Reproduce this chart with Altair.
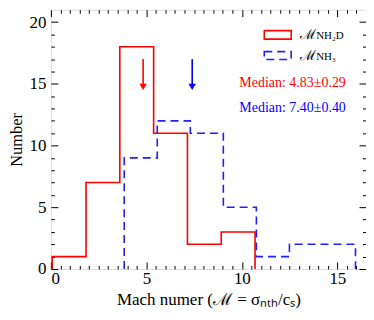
import altair as alt
import pandas as pd

# ---- data ----
red_edges = [0.07, 1.84, 3.61, 5.38, 7.15, 8.92, 10.69]
red_counts = [1, 7, 18, 11, 2, 3]
blue_edges = [3.84, 5.57, 7.30, 9.03, 10.76, 12.49, 14.22, 15.95]
blue_counts = [9, 12, 11, 5, 1, 2, 2]
medians = [4.83, 7.40]
median_errs = [0.29, 0.40]
arrow_top = [17.0, 17.0]
arrow_head = [14.75, 14.75]
series_colors = ["#ff0000", "#0000ff"]

x_major = [0, 5, 10, 15]
x_ticks = [i * 0.5 for i in range(34)]
y_major = [0, 5, 10, 15, 20]
y_ticks = list(range(21))

FONT = "Liberation Serif"
W, H = 316, 260


def steps(edges, counts):
    xs = [edges[0]] + list(edges)
    ys = [0] + list(counts) + [0]
    return pd.DataFrame({"x": xs, "y": ys})


red_df = steps(red_edges, red_counts)
blue_df = steps(blue_edges, blue_counts)
arrows_df = pd.DataFrame({"m": medians, "top": arrow_top, "head": arrow_head,
                          "c": series_colors})

xs = alt.Scale(domain=[0, 16.5], nice=False, zero=False)
ys = alt.Scale(domain=[0, 21], nice=False, zero=False)

tick_x = {"condition": {"test": "datum.value % 5 === 0", "value": 7}, "value": 3.5}
tick_y = {"condition": {"test": "datum.value % 5 === 0", "value": 7}, "value": 3.5}

ax_x_lab = alt.Axis(orient="bottom", values=x_major, ticks=False, tickSize=0, domain=False,
                    grid=False, labelFont=FONT, labelFontSize=17, labelColor="black",
                    labelPadding=2, title="Mach numer (ℳ = σₙₜₕ/cₛ)", titleFont=FONT,
                    titleFontSize=17, titleFontWeight="normal", titleColor="black",
                    titlePadding=5)
ax_x_bot = alt.Axis(orient="top", offset=-H, values=x_ticks, labels=False, domain=False,
                    grid=False, tickSize=tick_x, tickColor="black", tickWidth=1, title="")
ax_x_top = alt.Axis(orient="bottom", offset=-H, values=x_ticks, labels=False, domain=False,
                    grid=False, tickSize=tick_x, tickColor="black", tickWidth=1, title="")

ax_y_lab = alt.Axis(orient="left", values=y_major, ticks=False, tickSize=0, domain=False,
                    grid=False, labelFont=FONT, labelFontSize=17, labelColor="black",
                    labelPadding=5, title="Number", titleFont=FONT, titleFontSize=16.5,
                    titleFontWeight="normal", titleColor="black", titlePadding=4)
ax_y_left = alt.Axis(orient="right", offset=-W, values=y_ticks, labels=False, domain=False,
                     grid=False, tickSize=tick_y, tickColor="black", tickWidth=1, title="")
ax_y_right = alt.Axis(orient="left", offset=-W, values=y_ticks, labels=False, domain=False,
                      grid=False, tickSize=tick_y, tickColor="black", tickWidth=1, title="")

red_line = alt.Chart(red_df).mark_line(interpolate="step-after", color="#ff0000",
                                       strokeWidth=1.6).encode(
    x=alt.X("x:Q", scale=xs, axis=ax_x_lab),
    y=alt.Y("y:Q", scale=ys, axis=ax_y_lab),
)
blue_line = alt.Chart(blue_df).mark_line(interpolate="step-after", color="#2020ff",
                                         strokeWidth=1.6, strokeDash=[8, 5]).encode(
    x=alt.X("x:Q", scale=xs, axis=ax_x_bot),
    y=alt.Y("y:Q", scale=ys, axis=ax_y_left),
)
arrow_rules = alt.Chart(arrows_df).mark_rule(strokeWidth=1.6).encode(
    x=alt.X("m:Q", scale=xs, axis=ax_x_top),
    y=alt.Y("top:Q", scale=ys, axis=ax_y_right),
    y2="head:Q",
    color=alt.Color("c:N", scale=None),
)
arrow_heads = alt.Chart(arrows_df).mark_point(shape="triangle-down", filled=True, size=55,
                                              opacity=1).encode(
    x=alt.X("m:Q", scale=xs, axis=None),
    y=alt.Y("head:Q", scale=ys, axis=None),
    color=alt.Color("c:N", scale=None),
)

med_text = [f"Median: {m:.2f}±{e:.2f}" for m, e in zip(medians, median_errs)]
texts = []
for i, (t, c) in enumerate(zip(med_text, series_colors)):
    texts.append(alt.Chart(alt.Data(values=[{}])).mark_text(
        text=t, font=FONT, fontSize=14, color=c, align="left", baseline="middle").encode(
        x=alt.value(189), y=alt.value(74 + 25 * i)))

# legend (drawn by hand)
leg = []
leg.append(alt.Chart(alt.Data(values=[{}])).mark_rect(
    fill="white", fillOpacity=0, stroke="#ff0000", strokeWidth=1.6).encode(
    x=alt.value(214), x2=alt.value(241), y=alt.value(21), y2=alt.value(29.5)))
leg.append(alt.Chart(alt.Data(values=[{}])).mark_rect(
    fill="white", fillOpacity=0, stroke="#2020ff", strokeWidth=1.6, strokeDash=[8, 5]).encode(
    x=alt.value(214), x2=alt.value(241), y=alt.value(42), y2=alt.value(50)))
for i, sub in enumerate(["NH₂D", "NH₃"]):
    yy = 25 + 21 * i
    leg.append(alt.Chart(alt.Data(values=[{}])).mark_text(
        text="ℳ", font=FONT, fontSize=14, color="black",
        align="left", baseline="middle").encode(x=alt.value(250), y=alt.value(yy)))
    leg.append(alt.Chart(alt.Data(values=[{}])).mark_text(
        text=sub, font=FONT, fontSize=11, color="black",
        align="left", baseline="alphabetic").encode(x=alt.value(266), y=alt.value(yy + 4.5)))

chart = alt.layer(red_line, blue_line, arrow_rules, arrow_heads, *texts, *leg).resolve_axis(
    x="independent", y="independent"
).properties(
    width=W, height=H,
    autosize=alt.AutoSizeParams(type="none"),
    padding={"left": 43, "top": 1.3, "right": 0, "bottom": 40},
).configure_view(stroke="black", strokeWidth=1.3).configure(background="white")

chart.save("out.html", embed_options={"renderer": "svg", "actions": False})
